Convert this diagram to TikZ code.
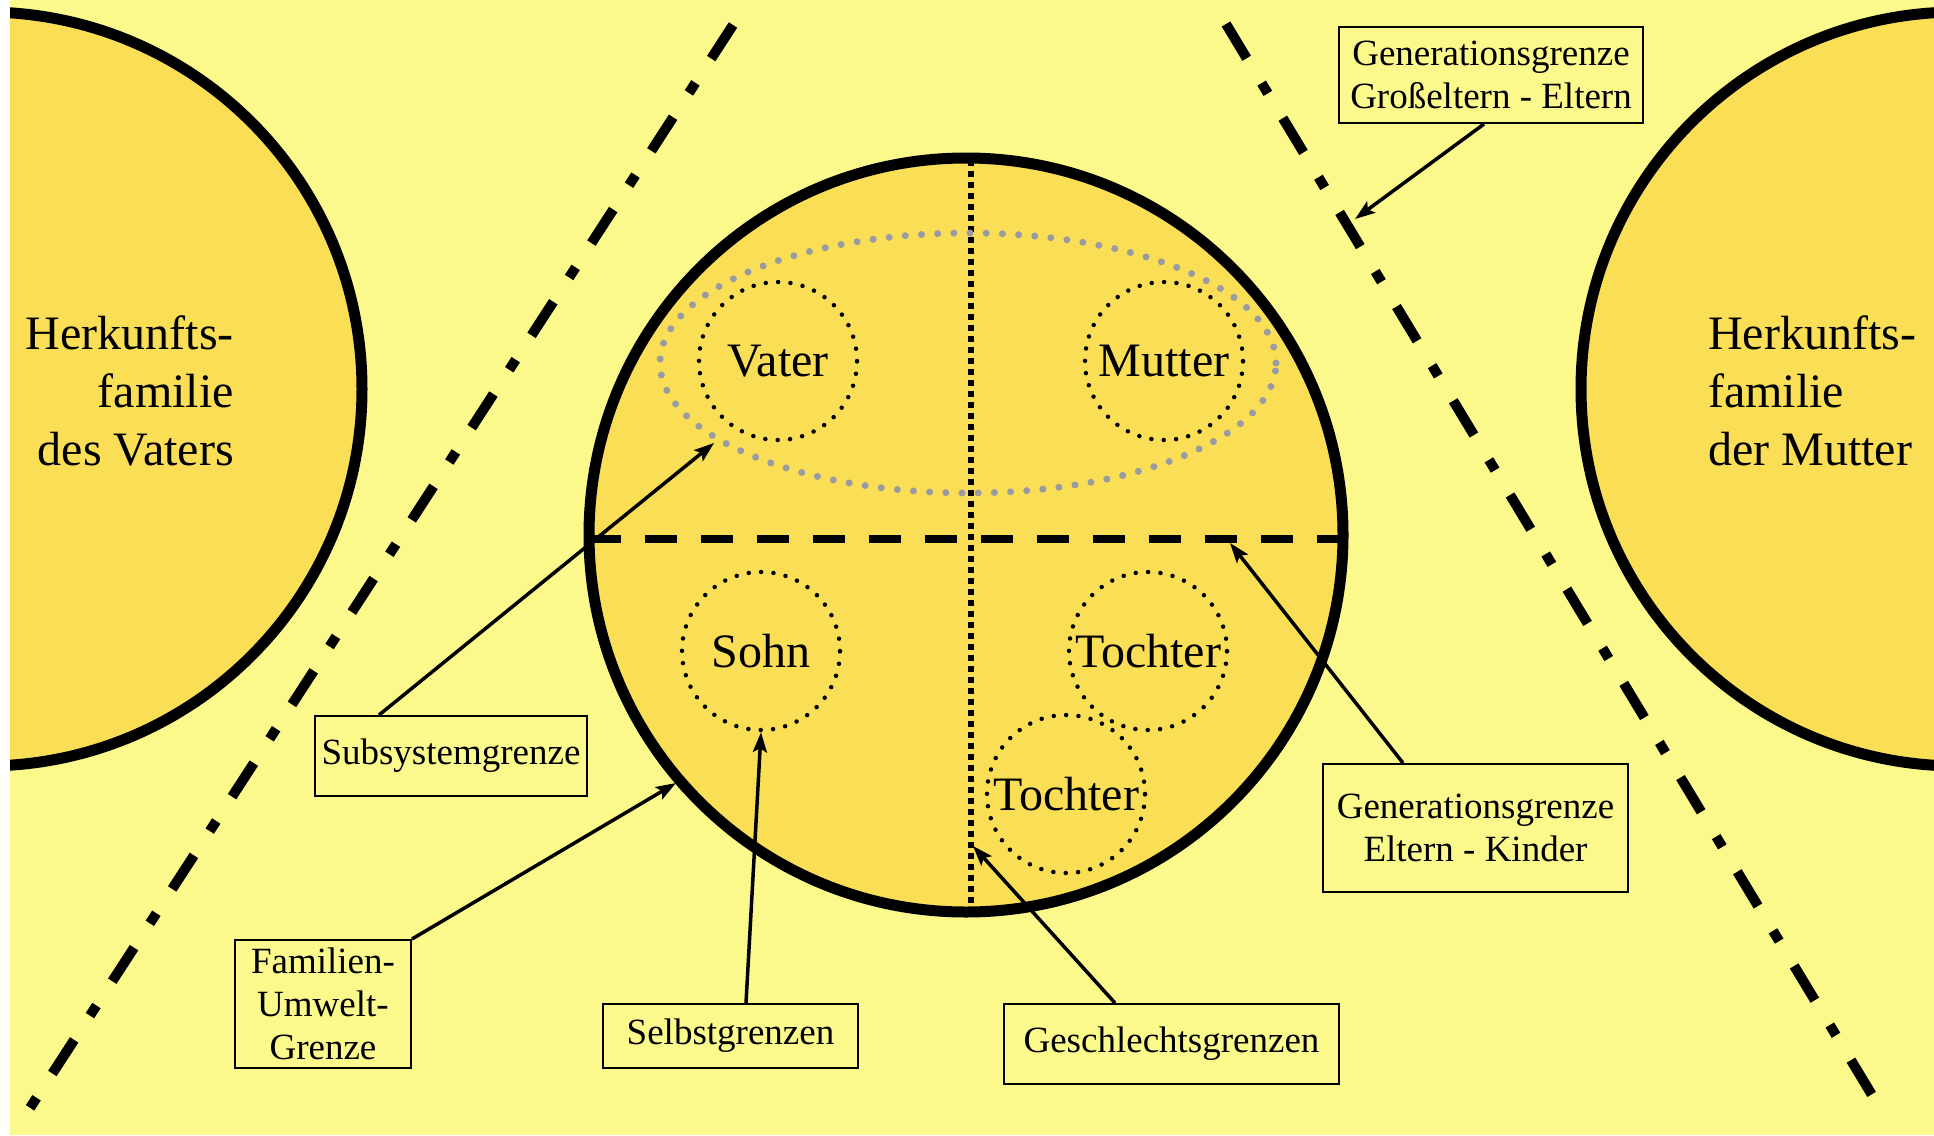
\documentclass[tikz,border=0pt]{standalone}
\usepackage{fontspec}
\setmainfont{Liberation Serif}
\usetikzlibrary{arrows.meta,calc}
\definecolor{bg}{HTML}{FBF98B}
\definecolor{famfill}{HTML}{F9DE56}
\definecolor{ellgray}{HTML}{9A9AA2}
\begin{document}
\begin{tikzpicture}[x=1pt,y=-1pt,
  bigcircle/.style={fill=famfill, draw=black, line width=11pt},
  dashdotline/.style={line width=10pt, dash pattern=on 40pt off 29pt on 12pt off 29pt},
  person/.style={circle, draw=black, line width=4.5pt, dash pattern=on 0pt off 12.4pt, line cap=round,
    minimum size=158pt, inner sep=0pt, font=\fontsize{48}{58}\selectfont},
  bigtext/.style={inner sep=0pt, font=\fontsize{48}{58}\selectfont},
  labelbox/.style={draw=black, line width=2pt, inner sep=0pt, align=center, font=\fontsize{37}{43}\selectfont},
  conn/.style={line width=3.5pt, -{Stealth[length=20pt,width=14pt,inset=4pt]}},
]
\useasboundingbox (0,0) rectangle (1934,1135);
\fill[white] (0,0) rectangle (1934,1135);
\fill[bg] (10,0) rectangle (1934,1135);

% families of origin
\begin{scope}
  \clip (10,0) rectangle (1934,1135);
  \draw[bigcircle] (-15,389) circle[radius=377pt];
  \draw[bigcircle] (1958,389) circle[radius=377pt];
\end{scope}

% generation boundaries grandparents - parents
\draw[dashdotline] (733,25) -- (28,1111);
\draw[dashdotline] (1226,24) -- (1875,1100);

% core family
\fill[famfill] (966,535) circle[radius=377pt];
\draw[line width=6pt, dash pattern=on 6pt off 5pt] (971,160) -- (971,910);
\draw[line width=8pt, dash pattern=on 32pt off 24pt] (589,539) -- (1343,539);
\draw[ellgray, line width=7pt, line cap=round, dash pattern=on 0pt off 16.2pt]
  (968,363) ellipse [x radius=308pt, y radius=130pt];

\node[person] (vater) at (778,361) {Vater};
\node[person] (mutter) at (1164,361) {Mutter};
\node[person] (sohn) at (761,651) {Sohn};
\node[person] (tochterA) at (1148,651) {Tochter};
\node[person] (tochterB) at (1066,794) {Tochter};

\draw[line width=11pt] (966,535) circle[radius=377pt];

% texts of families of origin
\node[bigtext, anchor=east, align=right] (herkV) at (234,391) {Herkunfts-\\familie\\des Vaters};
\node[bigtext, anchor=west, align=left] (herkM) at (1708,391) {Herkunfts-\\familie\\der Mutter};

% label boxes
\node[labelbox, minimum width=304pt, minimum height=96pt] (gen1) at (1491,75) {Generationsgrenze\\Großeltern - Eltern};
\node[labelbox, minimum width=272pt, minimum height=80pt] (sub) at (451,756) {Subsystemgrenze};
\node[labelbox, minimum width=176pt, minimum height=128pt] (fam) at (323,1004) {Familien-\\Umwelt-\\Grenze};
\node[labelbox, minimum width=255pt, minimum height=64pt] (selbst) at (730.5,1036) {Selbstgrenzen};
\node[labelbox, minimum width=335pt, minimum height=80pt] (geschl) at (1171.5,1044) {Geschlechtsgrenzen};
\node[labelbox, minimum width=305pt, minimum height=128pt] (gen2) at (1475.5,828) {Generationsgrenze\\Eltern - Kinder};

% arrow targets
\coordinate (tGen1) at (1355,219);
\coordinate (tSub) at (714,443);
\coordinate (tFam) at (676,783);
\coordinate (tGeschl) at (973,846);
\coordinate (tGen2) at (1230,543);

% connectors
\draw[conn] ($(gen1.south)+(-7,0)$) -- (tGen1);
\draw[conn] ($(sub.north west)+(65,0)$) -- (tSub);
\draw[conn] (fam.north east) -- (tFam);
\draw[conn] ($(selbst.north west)+(144,0)$) -- (sohn.south);
\draw[conn] ($(geschl.north west)+(112,0)$) -- (tGeschl);
\draw[conn] ($(gen2.north west)+(81,0)$) -- (tGen2);
\end{tikzpicture}
\end{document}
